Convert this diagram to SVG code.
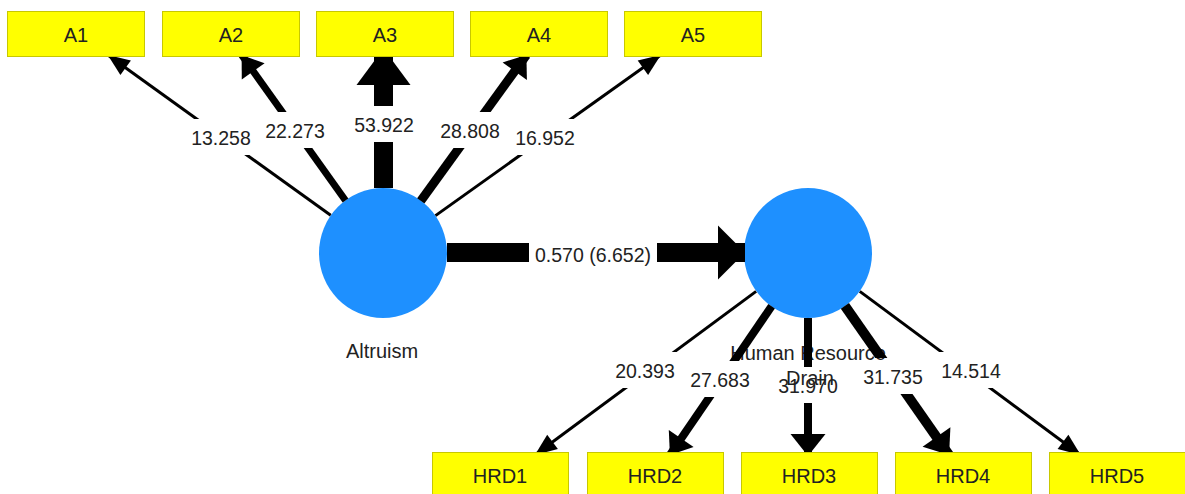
<svg xmlns="http://www.w3.org/2000/svg" width="1185" height="494" viewBox="0 0 1185 494">
<style>
.bg{fill:#ffffff}
.lv{fill:#1E90FF}
.ind{fill:#FFFF00;stroke:#C8C800;stroke-width:1}
.ln{stroke:#000;fill:none;stroke-linecap:butt}
.hd{fill:#000}
.t{font-family:"Liberation Sans",Arial,sans-serif;fill:#222;text-anchor:middle}
.bx{font-size:20px}
.nm{font-size:19.5px}
.lb{font-size:20px}
</style>
<defs>
<mask id="gaps" maskUnits="userSpaceOnUse" x="0" y="0" width="1185" height="494">
<rect x="0" y="0" width="1185" height="494" fill="#fff"/>
<rect x="187" y="119" width="68" height="36" fill="#000"/>
<rect x="261" y="112" width="68" height="36" fill="#000"/>
<rect x="350" y="106" width="68" height="36" fill="#000"/>
<rect x="436" y="112" width="68" height="36" fill="#000"/>
<rect x="511" y="119" width="68" height="36" fill="#000"/>
<rect x="529" y="236" width="128" height="36" fill="#000"/>
<rect x="611" y="352" width="68" height="36" fill="#000"/>
<rect x="686" y="361" width="68" height="36" fill="#000"/>
<rect x="774" y="367" width="68" height="36" fill="#000"/>
<rect x="859" y="358" width="68" height="36" fill="#000"/>
<rect x="937" y="352" width="68" height="36" fill="#000"/>
</mask>
</defs>
<rect class="bg" x="0" y="0" width="1185" height="494"/>

<g id="node-altruism">
<ellipse class="lv" cx="383" cy="253" rx="64" ry="65"/>
<text class="t lb" x="382" y="358">Altruism</text>
</g>
<g id="node-hrd">
<ellipse class="lv" cx="808" cy="253" rx="64" ry="65"/>
<text class="t lb" x="808" y="360">Human Resource</text>
<text class="t lb" x="810" y="385">Drain</text>
</g>

<g id="connectors">
<g mask="url(#gaps)">
<!-- Altruism -> A1..A5 -->
<line class="ln" stroke-width="3" x1="330.7" y1="215.3" x2="107.8" y2="55"/>
<polygon class="hd" points="107.8,55 130.9,60.5 120.4,75.1"/>
<line class="ln" stroke-width="7" x1="345.5" y1="200.5" x2="241.6" y2="55"/>
<polygon class="hd" points="241.6,55 264.6,63.2 241.8,79.4"/>
<line class="ln" stroke-width="19" x1="383.5" y1="188" x2="383.5" y2="48.4"/>
<polygon class="hd" points="383.5,48.4 410.5,85 356.5,85"/>
<line class="ln" stroke-width="9" x1="420.8" y1="200.8" x2="526.4" y2="55"/>
<polygon class="hd" points="526.4,55 526.9,80 502.6,62.4"/>
<line class="ln" stroke-width="3" x1="435.5" y1="215.6" x2="660.8" y2="55"/>
<polygon class="hd" points="660.8,55 648.1,75.1 637.7,60.5"/>
<!-- Altruism -> HRD -->
<line class="ln" stroke-width="19" x1="447" y1="252.5" x2="745" y2="252.5"/>
<polygon class="hd" points="745,252.5 718,225.5 718,279.5"/>
<!-- HRD -> HRD1..HRD5 -->
<line class="ln" stroke-width="3" x1="756.1" y1="291.4" x2="534.9" y2="455"/>
<polygon class="hd" points="534.9,455 557.9,449.1 547.2,434.7"/>
<line class="ln" stroke-width="8" x1="771.6" y1="306.3" x2="669.9" y2="455"/>
<polygon class="hd" points="669.9,455 693.6,447 668.8,430"/>
<line class="ln" stroke-width="8" x1="808" y1="318" x2="808" y2="456"/>
<polygon class="hd" points="808,456 825.5,434 790.5,434"/>
<line class="ln" stroke-width="10" x1="844.9" y1="305.9" x2="949.1" y2="455"/>
<polygon class="hd" points="949.1,455 950.4,427.3 922.6,446.7"/>
<line class="ln" stroke-width="3" x1="859.8" y1="291.4" x2="1080.7" y2="455"/>
<polygon class="hd" points="1080.7,455 1068.4,434.7 1057.6,449.1"/>
</g>
<text class="t nm" x="221" y="145">13.258</text>
<text class="t nm" x="295" y="138">22.273</text>
<text class="t nm" x="384" y="132">53.922</text>
<text class="t nm" x="470" y="138">28.808</text>
<text class="t nm" x="545" y="145">16.952</text>
<text class="t nm" x="593" y="262">0.570 (6.652)</text>
<text class="t nm" x="645" y="378">20.393</text>
<text class="t nm" x="720" y="387">27.683</text>
<text class="t nm" x="808" y="393">31.970</text>
<text class="t nm" x="893" y="384">31.735</text>
<text class="t nm" x="971" y="378">14.514</text>
</g>

<g id="node-a1"><rect class="ind" x="7.5" y="11.5" width="137" height="45"/><text class="t bx" x="76" y="42">A1</text></g>
<g id="node-a2"><rect class="ind" x="162.5" y="11.5" width="137" height="45"/><text class="t bx" x="231" y="42">A2</text></g>
<g id="node-a3"><rect class="ind" x="316.5" y="11.5" width="137" height="45"/><text class="t bx" x="385" y="42">A3</text></g>
<g id="node-a4"><rect class="ind" x="470.5" y="11.5" width="137" height="45"/><text class="t bx" x="539" y="42">A4</text></g>
<g id="node-a5"><rect class="ind" x="624.5" y="11.5" width="137" height="45"/><text class="t bx" x="693" y="42">A5</text></g>

<g id="node-hrd1"><rect class="ind" x="432.5" y="452.5" width="136" height="45"/><text class="t bx" x="500" y="483">HRD1</text></g>
<g id="node-hrd2"><rect class="ind" x="587.5" y="452.5" width="136" height="45"/><text class="t bx" x="655" y="483">HRD2</text></g>
<g id="node-hrd3"><rect class="ind" x="741.5" y="452.5" width="136" height="45"/><text class="t bx" x="809" y="483">HRD3</text></g>
<g id="node-hrd4"><rect class="ind" x="895.5" y="452.5" width="136" height="45"/><text class="t bx" x="963" y="483">HRD4</text></g>
<g id="node-hrd5"><rect class="ind" x="1049.5" y="452.5" width="136" height="45"/><text class="t bx" x="1117" y="483">HRD5</text></g>
</svg>
